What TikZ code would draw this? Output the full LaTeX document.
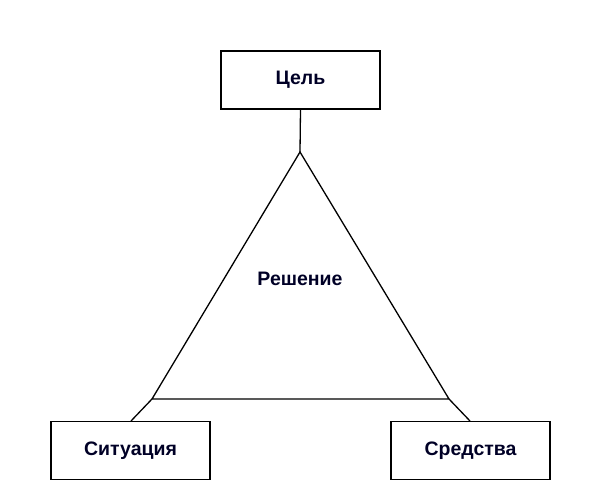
\documentclass[tikz,border=0pt]{standalone}
\usepackage{fontspec}
\setmainfont{Liberation Sans}
\begin{document}
\begin{tikzpicture}[x=1pt,y=-1pt,
  txt/.style={font=\fontsize{19.5}{22}\selectfont\bfseries,text=black!85!blue},
  box/.style={txt,draw=black,line width=1.4pt,minimum width=159pt,minimum height=58pt,inner sep=0pt},
  ln/.style={line width=1.3pt,draw=black}]
\useasboundingbox (0,0) rectangle (600,500);
\node[box] (goal) at (300.5,80) {\raisebox{-6pt}{Цель}};
\node[box] (sit) at (130.5,450.5) {\raisebox{-6pt}{Ситуация}};
\node[box] (mean) at (470.5,450.5) {\raisebox{-6pt}{Средства}};
\coordinate (A) at (300,152);
\coordinate (B) at (152,399);
\coordinate (C) at (449,399);
\draw[ln] (A) -- (B) -- (C) -- cycle;
\draw[ln] (goal.south) -- (A);
\draw[ln] (B) -- (131,421);
\draw[ln] (C) -- (470,421);
\node[txt] (sol) at (300,279) {Решение};
\end{tikzpicture}
\end{document}
